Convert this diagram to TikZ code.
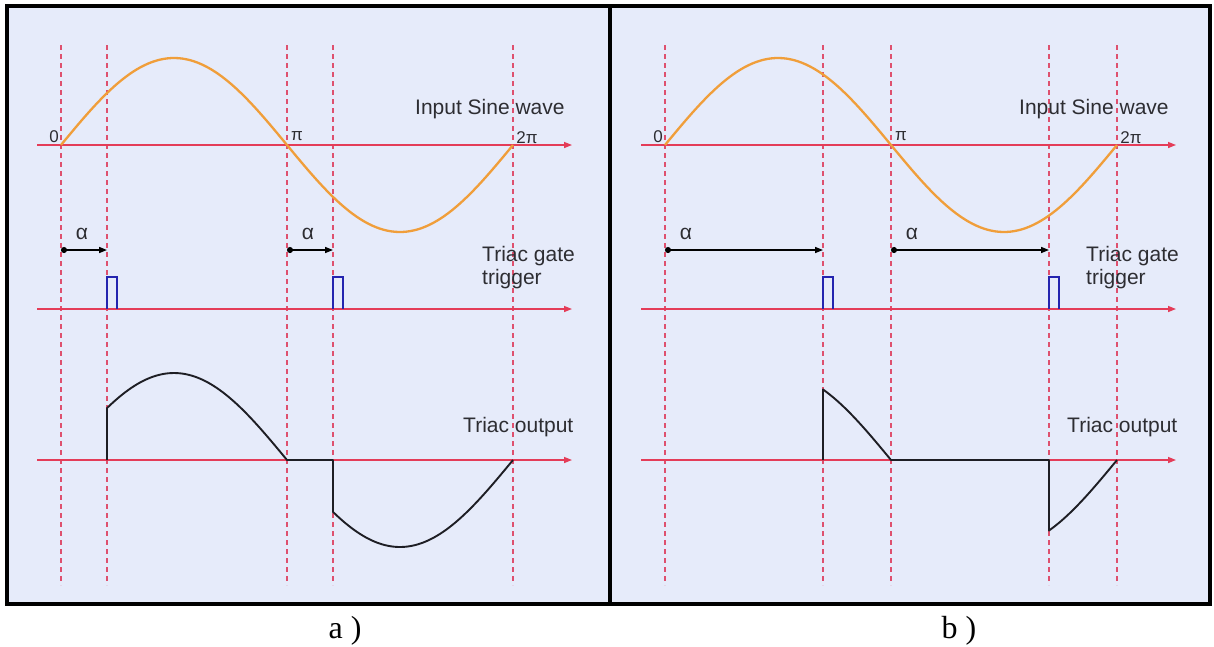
\documentclass[tikz,border=0pt]{standalone}
\usepackage{fontspec}
\setmainfont{Liberation Sans}
\newfontfamily\capfont{Liberation Serif}
\usetikzlibrary{arrows.meta}
\definecolor{panelbg}{RGB}{230,235,250}
\definecolor{axisred}{RGB}{228,60,88}
\definecolor{guidered}{RGB}{222,80,110}
\definecolor{waveorange}{RGB}{240,158,58}
\definecolor{gateblue}{RGB}{36,36,175}
\definecolor{outgray}{RGB}{30,30,36}
\definecolor{txtgray}{RGB}{45,45,50}
\tikzset{
  axis/.style={axisred,line width=1.4pt,-{Triangle[length=8pt,width=6pt]}},
  guide/.style={guidered,line width=1.1pt,dash pattern=on 5pt off 4pt},
  sinewave/.style={waveorange,line width=2.3pt},
  pulse/.style={gateblue,line width=2pt},
  outwave/.style={outgray,line width=1.9pt,line join=round},
  alpharrow/.style={black,line width=1.5pt,{Circle[length=6pt]}-{Triangle[length=8pt,width=6pt]}},
  lbl/.style={font=\fontsize{21}{23}\selectfont,text=txtgray,align=left,inner sep=0pt},
  ticklbl/.style={font=\fontsize{17}{19}\selectfont,text=txtgray,inner sep=0pt},
  caplbl/.style={font=\capfont\fontsize{32}{34}\selectfont,inner sep=0pt},
}
\begin{document}
\begin{tikzpicture}[x=1pt,y=-1pt]
  \useasboundingbox (0,0) rectangle (1214,646);
  % the two panels
  \fill[panelbg] (7,6) rectangle (1210,604);
  \draw[line width=4pt] (7,6) rectangle (1210,604);
  \draw[line width=4pt] (610,6) -- (610,604);
  \foreach \xo/\al/\capx/\cap in {61/37/345/a, 665/126/959/b} {
    \pgfmathtruncatemacro\ax{round(\xo+\al/360*452)}
    \pgfmathtruncatemacro\px{\xo+226}
    \pgfmathtruncatemacro\pax{round(\px+\al/360*452)}
    \pgfmathtruncatemacro\tx{\xo+452}
    \pgfmathsetmacro\alr{(\ax-\xo)/452*360}
    \pgfmathsetmacro\pal{(\pax-\xo)/452*360}
    % guides and axes
    \foreach \g in {\xo,\ax,\px,\pax,\tx}
      \draw[guide] (\g,45) -- (\g,585);
    \foreach \y in {145,309,460}
      \draw[axis] (\xo-24,\y) -- (\xo+511,\y);
    % input sine wave
    \draw[sinewave] plot[domain=0:360,samples=120,variable=\t]
      ({\xo+\t/360*452},{145-87*sin(\t)});
    \node[ticklbl] (zero-\cap) at (\xo-7,137) {0};
    \node[ticklbl] (pi-\cap) at (\xo+236,136) {π};
    \node[ticklbl] (twopi-\cap) at (\xo+466,138) {2π};
    \node[lbl,anchor=west] (inlbl-\cap) at (\xo+354,109) {Input Sine wave};
    % gate trigger
    \coordinate (as1-\cap) at (\xo,250);
    \coordinate (ae1-\cap) at (\ax,250);
    \coordinate (as2-\cap) at (\px,250);
    \coordinate (ae2-\cap) at (\pax,250);
    \draw[alpharrow] (as1-\cap) -- (ae1-\cap);
    \draw[alpharrow] (as2-\cap) -- (ae2-\cap);
    \node[lbl] (al1-\cap) at (\xo+21,234) {α};
    \node[lbl] (al2-\cap) at (\px+21,234) {α};
    \draw[pulse] (\ax,309) -- (\ax,277) -- (\ax+10,277) -- (\ax+10,309);
    \draw[pulse] (\pax,309) -- (\pax,277) -- (\pax+10,277) -- (\pax+10,309);
    \node[lbl,anchor=west] (gatelbl-\cap) at (\xo+421,268) {Triac gate\\trigger};
    % triac output
    \draw[outwave] (\ax,460)
      -- plot[domain=\alr:180,samples=60,variable=\t] ({\xo+\t/360*452},{460-87*sin(\t)})
      -- (\pax,460)
      -- plot[domain=\pal:360,samples=60,variable=\t] ({\xo+\t/360*452},{460-87*sin(\t)});
    \node[lbl,anchor=west] (outlbl-\cap) at (\xo+402,427) {Triac output};
    \node[caplbl] (cap-\cap) at (\capx,631) {\cap\ )};
  }
\end{tikzpicture}
\end{document}
